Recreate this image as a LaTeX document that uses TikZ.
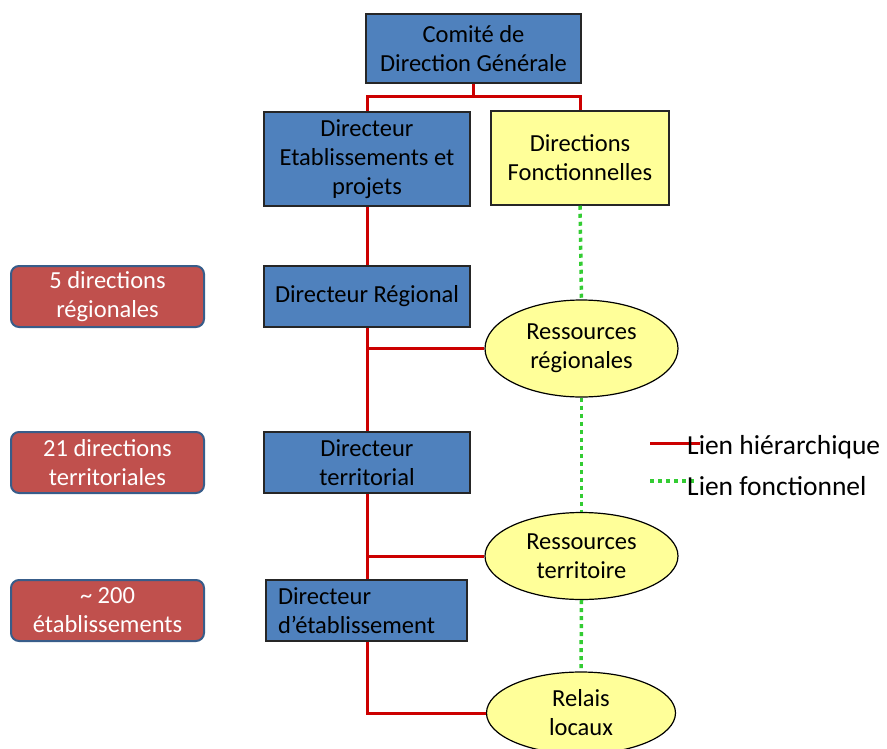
\documentclass[tikz,border=0pt]{standalone}
\usepackage{fontspec}
\setmainfont{Carlito}
\usepackage{xcolor}
\usetikzlibrary{shapes.geometric}
\definecolor{boxblue}{HTML}{4F81BD}
\definecolor{boxyellow}{HTML}{FFFF99}
\definecolor{boxred}{HTML}{C0504D}
\definecolor{redborder}{HTML}{385D8A}
\definecolor{linkred}{HTML}{CC0000}
\definecolor{linkgreen}{HTML}{33CC33}
\tikzset{
  bluebox/.style={draw=black!85, line width=1.5pt, fill=boxblue, minimum width=206pt,
    minimum height=61pt, align=center, inner sep=0pt},
  yellowbox/.style={draw=black!85, line width=1.5pt, fill=boxyellow, minimum width=178pt,
    minimum height=94pt, align=center, inner sep=0pt},
  redbox/.style={draw=redborder, line width=2pt, fill=boxred, rounded corners=8pt,
    text=white, minimum width=193pt, minimum height=61pt, align=center, inner sep=0pt},
  ressource/.style={ellipse, draw=black, line width=1.2pt, fill=boxyellow,
    minimum width=193pt, minimum height=97pt, align=center, inner sep=0pt},
  hier/.style={draw=linkred, line width=3pt},
  fonc/.style={draw=linkgreen, line width=3.5pt, dash pattern=on 4pt off 4pt}
}

\begin{document}
\begin{tikzpicture}[x=1pt, y=-1pt, font=\fontsize{24.5}{29}\selectfont]
\useasboundingbox (0,0) rectangle (887,748);

% direction
\node[bluebox, minimum width=215pt, minimum height=69pt] (cdg) at (473.5,48.5) {Comité de\\Direction Générale};
\node[bluebox, minimum height=94pt] (dep) at (367,159) {Directeur\\Etablissements et\\projets};
\node[yellowbox] (df) at (580,158) {Directions\\Fonctionnelles};

% niveaux
\node[bluebox] (dr) at (367,296.5) {Directeur Régional};
\node[bluebox] (dt) at (367,462.5) {Directeur\\territorial};
\node[bluebox, align=left, minimum width=0pt, text width=177pt, inner xsep=12pt] (de) at (366.5,610.5) {Directeur\\d’établissement};

\node[redbox] (nr) at (107.5,296.5) {5 directions\\régionales};
\node[redbox] (nt) at (107.5,462.5) {21 directions\\territoriales};
\node[redbox] (ne) at (107.5,610.5) {\textasciitilde{} 200\\établissements};

\node[ressource] (rr) at (581.5,348.5) {Ressources\\régionales};
\node[ressource, minimum height=87pt] (rt) at (581.5,556) {Ressources\\territoire};
\node[ressource, minimum width=189pt, minimum height=82pt] (rl) at (581,713) {Relais\\locaux};

% liens hierarchiques
\coordinate (split) at (473.5,96);
\draw[hier] (cdg.south) -- (split);
\draw[hier] (dep.north) |- (split) -| (df.north);
\draw[hier] (dep) -- (dr);
\draw[hier] (dr) -- (dt);
\draw[hier] (dt.south) -- (dt.south |- de.north);
\draw[hier] (rr.west) -- (rr.west -| dr.south);
\draw[hier] (rt.west) -- (rt.west -| dt.south);
\draw[hier] (de.south -| dt.south) |- (rl.west);

% liens fonctionnels
\draw[fonc] (df.south) -- (rr.north);
\draw[fonc] (rr.south) -- (rt.north);
\draw[fonc] (rt.south) -- (rl.north);

% legende
\coordinate (h1) at (650,443);
\coordinate (h2) at (700,443);
\coordinate (f1) at (650,481);
\coordinate (f2) at (697,481);
\draw[hier] (h1) -- (h2);
\draw[fonc] (f1) -- (f2);
\node[anchor=west, inner sep=0pt, font=\fontsize{27.5}{30}\selectfont] (lh) at (687,447) {Lien hiérarchique};
\node[anchor=west, inner sep=0pt, font=\fontsize{27.5}{30}\selectfont] (lf) at (687,486) {Lien fonctionnel};
\end{tikzpicture}
\end{document}
